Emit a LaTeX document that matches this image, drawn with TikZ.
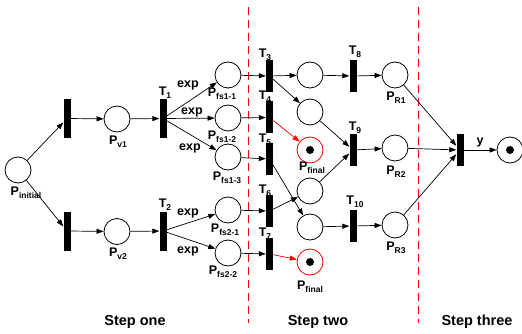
\documentclass[tikz,border=0pt]{standalone}
\usepackage{fontspec}
\setmainfont{Liberation Sans}
\usetikzlibrary{shapes, arrows.meta, positioning, calc}
\newcommand{\lowsub}[1]{\raisebox{-3pt}{\fontsize{8.5}{9}\selectfont #1}}

\begin{document}
\begin{tikzpicture}[
        x=1pt, y=-1pt,
        place/.style={circle, draw=black, line width=0.8pt, fill=white, minimum size=26pt, inner sep=0pt},
        endplace/.style={place, draw=red},
        bar/.style={rectangle, fill=black, minimum width=7pt, minimum height=32pt, inner sep=0pt},
        longbar/.style={bar, minimum height=39pt},
        lbl/.style={font=\bfseries\fontsize{12.5}{13}\selectfont, inner sep=0pt},
        steplbl/.style={font=\bfseries\fontsize{14.5}{16}\selectfont, inner sep=0pt},
        arc/.style={-{Triangle[length=7pt, width=5pt]}, line width=0.7pt, draw=black},
        redarc/.style={arc, draw=red, -{Triangle[length=7pt, width=5pt, fill=red]}},
        divider/.style={draw=red, line width=0.8pt, dash pattern=on 8pt off 5pt},
        token/.style={circle, fill=black, minimum size=8pt, inner sep=0pt}
    ]
        \useasboundingbox (0,0) rectangle (522,334);
        % Step dividers
        \coordinate (d1top) at (248,7);
        \coordinate (d1bot) at (248,323);
        \coordinate (d2top) at (418,7);
        \coordinate (d2bot) at (418,323);
        \draw[divider] (d1top) -- (d1bot);
        \draw[divider] (d2top) -- (d2bot);
        % Places
        \node[place] (pinit) at (18,170) {};
        \node[place] (pv1) at (117,119) {};
        \node[place] (pv2) at (117,231.5) {};
        \node[place] (pfs11) at (228,75) {};
        \node[place] (pfs12) at (228,118) {};
        \node[place] (pfs13) at (228,157) {};
        \node[place] (pfs21) at (228,210) {};
        \node[place] (pfs22) at (228,253) {};
        \node[place] (pa) at (310,75) {};
        \node[place] (pb) at (310,112) {};
        \node[endplace] (pfin1) at (310,150) {};
        \node[place] (pc) at (310,191) {};
        \node[place] (pd) at (310,227) {};
        \node[endplace] (pfin2) at (310,262) {};
        \node[place] (pr1) at (395,75) {};
        \node[place] (pr2) at (395,148) {};
        \node[place] (pr3) at (395,225) {};
        \node[place] (pend) at (510,150) {};
        \node[token] (tok1) at (pfin1) {};
        \node[token] (tok2) at (pfin2) {};
        \node[token] (tok3) at (pend) {};
        % Transitions
        \node[longbar] (ta) at (67,118.5) {};
        \node[longbar] (tb) at (67,231) {};
        \node[longbar] (t1) at (163,118.5) {};
        \node[longbar] (t2) at (163,231) {};
        \node[bar] (t3) at (269.5,76) {};
        \node[bar] (t4) at (269.5,117.5) {};
        \node[bar] (t5) at (269.5,159) {};
        \node[bar] (t6) at (269.5,211) {};
        \node[bar] (t7) at (269.5,254) {};
        \node[bar] (t8) at (353,76) {};
        \node[bar] (t9) at (353,150) {};
        \node[bar] (t10) at (353,226) {};
        \node[bar] (tend) at (460,150) {};
        % Labels
        \node[lbl] (lpinit) at (26,193) {P\lowsub{initial}};
        \node[lbl] (lpv1) at (118,142) {P\lowsub{v1}};
        \node[lbl] (lpv2) at (118,254) {P\lowsub{v2}};
        \node[lbl] (lt1) at (165,93) {T\lowsub{1}};
        \node[lbl] (lt2) at (165,205) {T\lowsub{2}};
        \node[lbl] (lpfs11) at (222,94) {P\lowsub{fs1-1}};
        \node[lbl] (lpfs12) at (222,137) {P\lowsub{fs1-2}};
        \node[lbl] (lpfs13) at (227,178) {P\lowsub{fs1-3}};
        \node[lbl] (lpfs21) at (225,230) {P\lowsub{fs2-1}};
        \node[lbl] (lpfs22) at (223,272) {P\lowsub{fs2-2}};
        \node[lbl] (lexp1) at (188,85) {exp};
        \node[lbl] (lexp2) at (192,112) {exp};
        \node[lbl] (lexp3) at (190,148) {exp};
        \node[lbl] (lexp4) at (188,213) {exp};
        \node[lbl] (lexp5) at (188,251) {exp};
        \node[lbl] (lt3) at (265,55) {T\lowsub{3}};
        \node[lbl] (lt4) at (265,97) {T\lowsub{4}};
        \node[lbl] (lt5) at (265,140) {T\lowsub{5}};
        \node[lbl] (lt6) at (265,191) {T\lowsub{6}};
        \node[lbl] (lt7) at (265,234) {T\lowsub{7}};
        \node[lbl] (lpfin1) at (312,168) {P\lowsub{final}};
        \node[lbl] (lpfin2) at (310,287) {P\lowsub{final}};
        \node[lbl] (lt8) at (355,52) {T\lowsub{8}};
        \node[lbl] (lt9) at (355,128) {T\lowsub{9}};
        \node[lbl] (lt10) at (355,202) {T\lowsub{10}};
        \node[lbl] (lpr1) at (396,98) {P\lowsub{R1}};
        \node[lbl] (lpr2) at (396,172) {P\lowsub{R2}};
        \node[lbl] (lpr3) at (396,248) {P\lowsub{R3}};
        \node[lbl] (ly) at (480,142) {y};
        \node[steplbl] (step1) at (135,322) {Step one};
        \node[steplbl] (step2) at (318,322) {Step two};
        \node[steplbl] (step3) at (477,322) {Step three};
        % Arcs, step one
        \draw[arc] (pinit) -- (ta);
        \draw[arc] (pinit) -- (tb);
        \draw[arc] (ta) -- (pv1);
        \draw[arc] (tb) -- (pv2);
        \draw[arc] (pv1) -- (t1);
        \draw[arc] (pv2) -- (t2);
        \draw[arc] (t1) -- (pfs11);
        \draw[arc] (t1) -- (pfs12);
        \draw[arc] (t1) -- (pfs13);
        \draw[arc] (t2) -- (pfs21);
        \draw[arc] (t2) -- (pfs22);
        % Arcs, step two
        \draw[arc] (pfs11) -- (t3);
        \draw[arc] (pfs12) -- (t4);
        \draw[arc] (pfs13) -- (t5);
        \draw[arc] (pfs21) -- (t6);
        \draw[arc] (pfs22) -- (t7);
        \draw[arc] (t3) -- (pa);
        \draw[arc] (t3) -- (pb);
        \draw[redarc] (t4) -- (pfin1);
        \draw[arc] (t5) -- (pd);
        \draw[arc] (t6) -- (pc);
        \draw[redarc] (t7) -- (pfin2);
        \draw[arc] (pa) -- (t8);
        \draw[arc] (pb) -- (t9);
        \draw[arc] (pc) -- (t9);
        \draw[arc] (pd) -- (t10);
        \draw[arc] (t8) -- (pr1);
        \draw[arc] (t9) -- (pr2);
        \draw[arc] (t10) -- (pr3);
        % Arcs, step three
        \draw[arc] (pr1) -- (tend);
        \draw[arc] (pr2) -- (tend);
        \draw[arc] (pr3) -- (tend);
        \draw[arc] (tend) -- (pend);
    \end{tikzpicture}
\end{document}
